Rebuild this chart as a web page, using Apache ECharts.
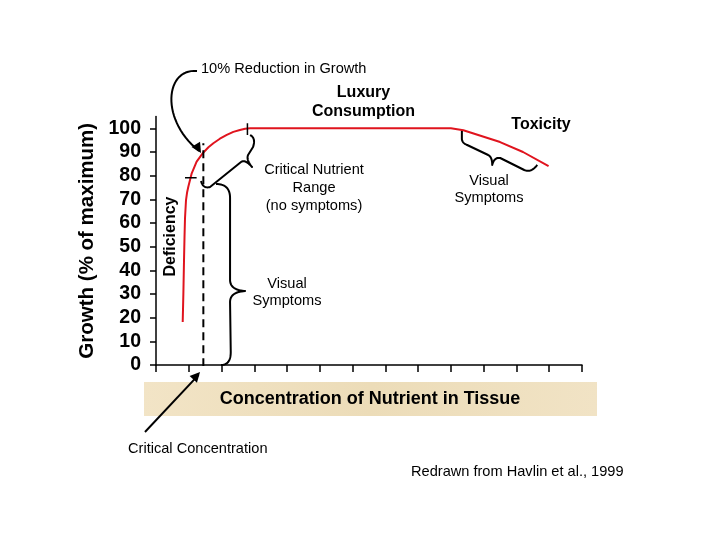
<!DOCTYPE html>
<html>
<head>
<meta charset="utf-8">
<script src="https://cdn.jsdelivr.net/npm/echarts@6/dist/echarts.min.js"></script>
<style>html,body{margin:0;padding:0;background:#fff}#c{width:720px;height:540px}</style>
</head>
<body>
<div id="c"></div>
<script>
// ---- data ----
const yTickValues = [0, 10, 20, 30, 40, 50, 60, 70, 80, 90, 100];
const growthCurve = [
  [0.815, 18.2], [0.835, 30], [0.855, 44.4], [0.87, 54], [0.885, 62], [0.916, 69.7],
  [0.95, 73], [0.986, 75.3], [1.09, 81], [1.24, 85.9], [1.44, 89.7], [1.6, 92],
  [1.75, 93.7], [1.95, 95.6], [2.16, 97.2], [2.36, 98.5], [2.56, 99.3], [2.72, 99.8],
  [2.87, 100], [9.0, 100], [9.38, 99.2], [10.5, 94.2], [11.2, 90], [11.98, 84]
];
const criticalConc = [[1.445, -0.5], [1.445, 93.7]];
const markLow = [[0.885, 79.1], [1.24, 79.1]];
const markHigh = [[2.79, 97.2], [2.79, 102.1]];

// annotation shapes anchored in data units
const braceCNR = ['M',[1.374,77.75],'Q',[1.435,74.37],[1.649,75.21],'L',[2.595,85.77],
  'Q',[2.718,87.04],[2.931,83.66],'Q',[2.748,86.62],[2.809,88.73],'L',[2.962,92.11],
  'Q',[3.053,95.91],[2.870,97.18]];
const braceDef = ['M',[1.832,76.48],'Q',[2.26,76.48],[2.26,70.56],'L',[2.26,35.92],
  'Q',[2.26,31.69],[2.718,31.27],'Q',[2.26,30.84],[2.26,26.62],'L',[2.281,5.49],
  'Q',[2.281,0],[1.985,0]];
const braceTox = ['M',[9.334,98.87],'L',[9.334,95.49],'Q',[9.344,93.8],[9.496,92.96],
  'L',[10.137,88.73],'Q',[10.26,87.89],[10.26,84.51],'Q',[10.321,87.89],[10.504,87.46],
  'L',[11.237,82.39],'Q',[11.45,81.13],[11.634,84.51]];
const arrowReduction = ['M',[1.252,124.22],'C',[0.275,125.49],[0.122,103.52],[1.313,90.42]];
const arrowReductionTip = [[1.374,89.58],[0.80,102.5]];
const arrowCritical = ['M',[-0.336,-28.31],'L',[1.30,-4.2]];
const arrowCriticalTip = [[1.344,-2.96],[-0.336,-28.31]];

const chart = echarts.init(document.getElementById('c'), null, {renderer:'canvas'});
const black = '#000';
chart.setOption({
  animation:false,
  backgroundColor:'#fff',
  grid:{left:156, right:138, top:116.5, bottom:175},
  xAxis:{type:'value', min:0, max:13, interval:1,
    axisLine:{lineStyle:{color:black,width:1.5}},
    axisTick:{show:true, inside:false, length:7, lineStyle:{color:black,width:1.5}},
    axisLabel:{show:false}, splitLine:{show:false}},
  yAxis:{type:'value', min:0, max:105, interval:10,
    name:'Growth (% of maximum)', nameLocation:'middle', nameRotate:90, nameGap:58,
    nameTextStyle:{fontFamily:'Liberation Sans, Arial', fontWeight:'bold', fontSize:20.5, color:black},
    axisLine:{show:true, lineStyle:{color:black,width:1.5}},
    axisTick:{show:true, length:6, customValues:yTickValues, lineStyle:{color:black,width:1.5}},
    axisLabel:{customValues:yTickValues, margin:15, color:black, fontFamily:'Liberation Sans, Arial', fontWeight:'bold', fontSize:19.5},
    splitLine:{show:false}},
  series:[
    {type:'line', data:growthCurve, smooth:false, symbol:'none',
      lineStyle:{color:'#e0141e', width:2}, z:3},
    {type:'line', data:criticalConc, symbol:'none', lineStyle:{color:black, width:2, type:[8,5]}, z:4},
    {type:'line', data:markLow, symbol:'none', lineStyle:{color:black, width:1.5}, z:5},
    {type:'line', data:markHigh, symbol:'none', lineStyle:{color:black, width:1.5}, z:5}
  ]
});

function P(p){ return chart.convertToPixel({gridIndex:0}, p); }
// sample M/L/Q/C commands (data-anchored) into pixel polyline points
function samplePath(cmds){
  const pts=[]; let cur=null; let i=0;
  while(i<cmds.length){
    const c=cmds[i++];
    if(c==='M'||c==='L'){ cur=P(cmds[i++]); pts.push(cur); }
    else if(c==='Q'){
      const a=P(cmds[i++]), b=P(cmds[i++]), s=cur;
      for(let k=1;k<=16;k++){const t=k/16,u=1-t;
        pts.push([u*u*s[0]+2*u*t*a[0]+t*t*b[0], u*u*s[1]+2*u*t*a[1]+t*t*b[1]]);}
      cur=b;
    } else if(c==='C'){
      const a=P(cmds[i++]), b=P(cmds[i++]), d=P(cmds[i++]), s=cur;
      for(let k=1;k<=30;k++){const t=k/30,u=1-t;
        pts.push([u*u*u*s[0]+3*u*u*t*a[0]+3*u*t*t*b[0]+t*t*t*d[0],
                  u*u*u*s[1]+3*u*u*t*a[1]+3*u*t*t*b[1]+t*t*t*d[1]]);}
      cur=d;
    }
  }
  return pts;
}
function poly(cmds){ return {type:'polyline', shape:{points:samplePath(cmds)}, style:{stroke:black, lineWidth:2, fill:null, lineJoin:'round'}, z:10}; }
function arrowHead(tipData, fromData, len, half){
  const t=P(tipData), f=P(fromData);
  const dx=t[0]-f[0], dy=t[1]-f[1], L=Math.hypot(dx,dy), ux=dx/L, uy=dy/L;
  const bx=t[0]-ux*len, by=t[1]-uy*len;
  return {type:'polygon', shape:{points:[[t[0],t[1]],[bx-uy*half,by+ux*half],[bx+uy*half,by-ux*half]]},
    style:{fill:black}, z:10};
}
const REG = '14.6px "Liberation Sans", Arial';
const BOLD = 'bold 16px "Liberation Sans", Arial';
const txt = (x,y,text,opt={}) => ({type:'text', x, y, z:10, style:Object.assign({
  text, fill:black, font:REG, align:'center', verticalAlign:'middle'}, opt)});

chart.setOption({graphic:[
  {type:'rect', shape:{x:144, y:382, width:453, height:34}, style:{
    fill:new echarts.graphic.LinearGradient(0,0,1,1,[{offset:0,color:'#f2e4c6'},{offset:0.5,color:'#ecdcb8'},{offset:1,color:'#f1e3c5'}])}, z:1},
  txt(370,399,'Concentration of Nutrient in Tissue',{font:'bold 18px "Liberation Sans", Arial'}),
  poly(braceCNR), poly(braceDef), poly(braceTox),
  poly(arrowReduction), arrowHead(arrowReductionTip[0], arrowReductionTip[1], 10, 5),
  poly(arrowCritical), arrowHead(arrowCriticalTip[0], arrowCriticalTip[1], 10, 5),
  txt(201,69,'10% Reduction in Growth',{align:'left'}),
  txt(363.5,93,'Luxury',{font:BOLD}),
  txt(363.5,112,'Consumption',{font:BOLD}),
  txt(541,124.5,'Toxicity',{font:BOLD}),
  txt(314,170,'Critical Nutrient'),
  txt(314,188,'Range'),
  txt(314,206,'(no symptoms)'),
  txt(489,181,'Visual'),
  txt(489,198,'Symptoms'),
  txt(287,284,'Visual'),
  txt(287,301,'Symptoms'),
  {type:'text', x:171, y:236.5, rotation:Math.PI/2, z:10, style:{text:'Deficiency', fill:black,
    font:'bold 16px "Liberation Sans", Arial', align:'center', verticalAlign:'middle'}},
  txt(128,449,'Critical Concentration',{align:'left'}),
  txt(411,472,'Redrawn from Havlin et al., 1999',{align:'left'})
]});
</script>
</body>
</html>
